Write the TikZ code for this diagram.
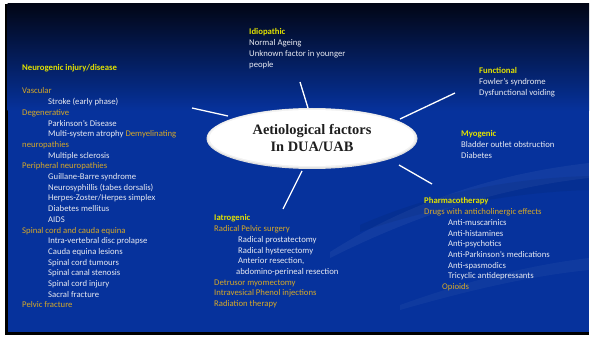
\documentclass[tikz,border=0pt]{standalone}
\usepackage{fontspec}
\usetikzlibrary{shapes.geometric}
\setmainfont{Carlito}
\newfontfamily\titlefont{Liberation Serif}
\definecolor{hdr}{RGB}{226,226,0}
\definecolor{subc}{RGB}{214,168,40}
\definecolor{itemc}{RGB}{232,234,242}
\definecolor{topc}{RGB}{2,6,22}
\definecolor{midc}{RGB}{0,30,96}
\definecolor{slideblue}{RGB}{6,50,156}
\newcommand{\hd}[1]{\textcolor{hdr}{\bfseries #1}}
\newcommand{\sbh}[1]{\textcolor{subc}{#1}}
\newcommand{\ind}[1][24pt]{\hspace*{#1}}
\tikzset{
  block/.style={anchor=north west, inner sep=0pt, align=left, text=itemc,
    font=\fontsize{8.7}{10.7}\selectfont},
  spoke/.style={draw=white, line width=1.3pt},
}
\begin{document}
\begin{tikzpicture}[x=1pt,y=-1pt]
\useasboundingbox (0,0) rectangle (590,337);
\fill[white] (0,0) rectangle (590,337);
% slide with dark edge
\fill[black] (5,4) rectangle (589,335);
\fill[slideblue] (7.5,110) rectangle (589,332);
\shade[top color=topc, middle color=midc, bottom color=slideblue] (7.5,4) rectangle (589,110.5);
% faint swooshes
\fill[white, opacity=0.05] (330,252) .. controls (420,195) and (510,172) .. (589,163)
  -- (589,178) .. controls (515,186) and (430,208) .. (330,258) -- cycle;
\fill[white, opacity=0.04] (400,305) .. controls (470,280) and (530,265) .. (589,258)
  -- (589,270) .. controls (530,276) and (470,290) .. (400,310) -- cycle;
\fill[black, opacity=0.06] (360,225) .. controls (440,190) and (520,178) .. (589,176)
  -- (589,190) .. controls (520,192) and (440,205) .. (360,232) -- cycle;

% central ellipse with a soft grey rim
\fill[gray!25] (312,138.5) ellipse [x radius=105.5, y radius=30.5];
\fill[gray!10] (312,138) ellipse [x radius=104.5, y radius=29.5];
\node (centre) at (312,138) [draw=none, fill=white,
  shape=ellipse, minimum width=205pt, minimum height=56pt, inner sep=0pt] {};
\node (title) at (312,138) [align=center, text={rgb,255:red,30;green,30;blue,30},
  font=\titlefont\bfseries\fontsize{14.4}{17}\selectfont] {Aetiological factors\\In DUA/UAB};

% end points of the spokes
\coordinate (sTop) at (300,82);
\coordinate (sLeft) at (192,108);
\coordinate (sUR) at (455,93);
\coordinate (sLR) at (432,184);
\coordinate (sBot) at (283,209);
\draw[spoke] (308,108) -- (sTop);
\draw[spoke] (228,116) -- (sLeft);
\draw[spoke] (400,119) -- (sUR);
\draw[spoke] (399,165) -- (sLR);
\draw[spoke] (302,171) -- (sBot);

% cause groups
\node[block] (idio) at (249,27.3) {\strut\hd{Idiopathic}\\Normal Ageing\\Unknown factor in younger\\people};

\node[block] (neuro) at (22,63.3) {\strut\hd{Neurogenic injury/disease}\\[12.3pt]
\sbh{Vascular}\\
\ind[26pt]Stroke (early phase)\\
\sbh{Degenerative}\\
\ind[26pt]Parkinson’s Disease\\
\ind[26pt]Multi-system atrophy \sbh{Demyelinating}\\
\sbh{neuropathies}\\
\ind[26pt]Multiple sclerosis\\
\sbh{Peripheral neuropathies}\\
\ind[26pt]Guillane-Barre syndrome\\
\ind[26pt]Neurosyphillis (tabes dorsalis)\\
\ind[26pt]Herpes-Zoster/Herpes simplex\\
\ind[26pt]Diabetes mellitus\\
\ind[26pt]AIDS\\
\sbh{Spinal cord and cauda equina}\\
\ind[26pt]Intra-vertebral disc prolapse\\
\ind[26pt]Cauda equina lesions\\
\ind[26pt]Spinal cord tumours\\
\ind[26pt]Spinal canal stenosis\\
\ind[26pt]Spinal cord injury\\
\ind[26pt]Sacral fracture\\
\sbh{Pelvic fracture}};

\node[block] (func) at (479,66.3) {\strut\hd{Functional}\\Fowler’s syndrome\\Dysfunctional voiding};

\node[block] (myo) at (461,129.3) {\strut\hd{Myogenic}\\Bladder outlet obstruction\\Diabetes};

\node[block] (iatro) at (214,213.3) {\strut\hd{Iatrogenic}\\
\sbh{Radical Pelvic surgery}\\
\ind Radical prostatectomy\\
\ind Radical hysterectomy\\
\ind Anterior resection,\\
\ind[22pt]abdomino-perineal resection\\
\sbh{Detrusor myomectomy}\\
\sbh{Intravesical Phenol injections}\\
\sbh{Radiation therapy}};

\node[block] (pharma) at (424,196.3) {\strut\hd{Pharmacotherapy}\\
\sbh{Drugs with anticholinergic effects}\\
\ind Anti-muscarinics\\
\ind Anti-histamines\\
\ind Anti-psychotics\\
\ind Anti-Parkinson’s medications\\
\ind Anti-spasmodics\\
\ind Tricyclic antidepressants\\
\ind[18pt]\sbh{Opioids}};
\end{tikzpicture}
\end{document}
